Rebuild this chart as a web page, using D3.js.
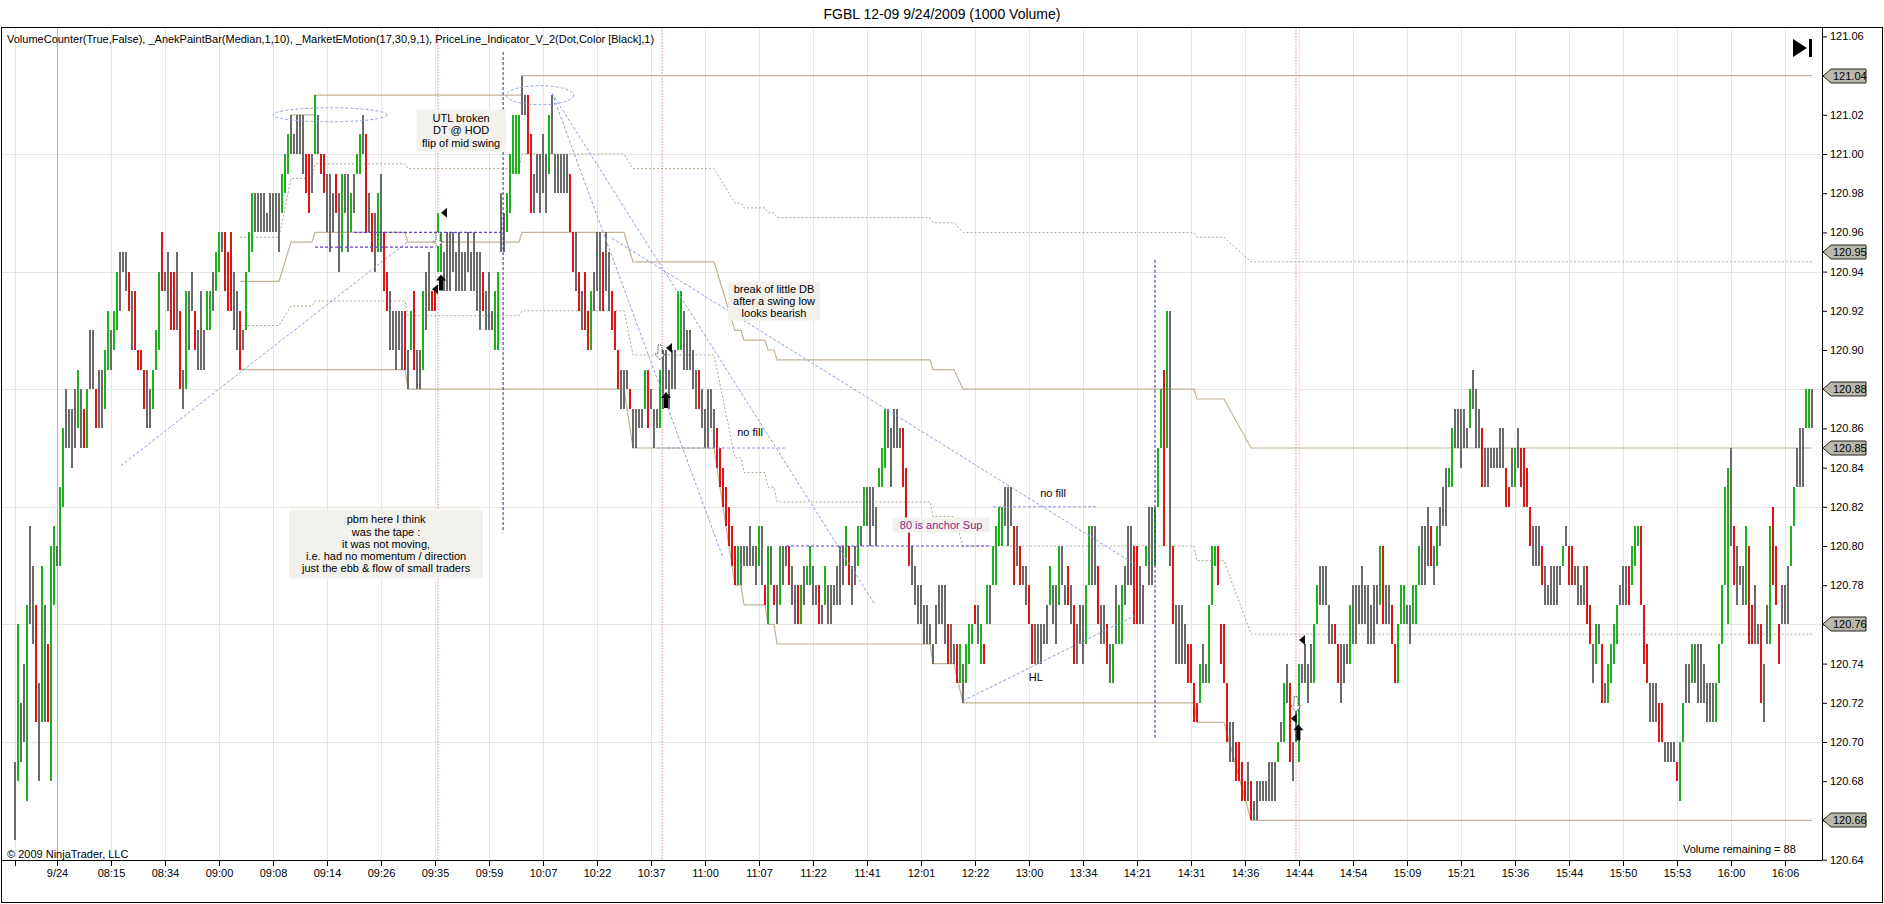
<!DOCTYPE html>
<html>
<head>
<meta charset="utf-8">
<script src="https://cdn.jsdelivr.net/npm/d3@7"></script>
<style>
  body { margin: 0; background: #fff; }
  svg text { font-family: "Liberation Sans", Arial, sans-serif; }
</style>
</head>
<body>
<svg id="chart" width="1884" height="904"></svg>
<script>
// FGBL 12-09, 1000 volume bars. Prices kept in ticks above 120.60 (1 tick = 0.01)
const BASE = 120.60;

const timeLabels = ["9/24","08:15","08:34","09:00","09:08","09:14","09:26","09:35","09:59","10:07","10:22",
  "10:37","11:00","11:07","11:22","11:41","12:01","12:22","13:00","13:34","14:21","14:31","14:36","14:44",
  "14:54","15:09","15:21","15:36","15:44","15:50","15:53","16:00","16:06"];
const timeLabelBars = timeLabels.map((d, k) => 14 + 18 * k);

const priceTicks = [120.64,120.66,120.68,120.70,120.72,120.74,120.76,120.78,120.80,120.82,120.84,120.86,
  120.88,120.90,120.92,120.94,120.96,120.98,121.00,121.02,121.04,121.06];
const gridPrices = [120.70,120.76,120.82,120.88,120.94,121.00];
const priceTags = [121.04,120.95,120.88,120.85,120.76,120.66];

const barLows = [
  5,8,9,10,7,16,15,11,8,11, 11,11,8,17,19,19,22,25,25,24, 25,26,25,25,25,28,28,26,26,26,
  27,29,29,30,31,32,34,33,32,30, 30,29,29,27,26,26,27,29,30,33, 33,32,31,31,31,28,27,28,30,32,
  30,29,29,29,31,31,32,33,34,35, 33,32,32,31,30,29,30,31,34,35, 36,36,36,36,36,36,36,36,35,37,
  38,39,40,40,40,40,39,38,37,38, 40,40,39,38,36,35,36,37,34,35, 37,35,36,37,39,39,40,36,36,35,
  34,35,35,33,32,30,30,29,30,29, 29,28,30,29,28,28,29,31,32,32, 32,34,34,33,33,33,34,33,33,33,
  33,34,33,33,32,31,32,31,31,31, 30,30,35,35,36,37,39,39,39,42, 42,40,37,37,38,37,38,37,39,40,
  38,38,38,38,38,36,34,33,32,31, 31,30,30,32,33,32,32,33,32,31, 30,28,27,27,28,27,25,25,26,26,
  27,26,27,25,26,26,27,28,27,28, 28,30,30,29,29,29,28,27,27,26, 25,25,26,25,24,23,22,21,20,19,
  18,18,18,19,19,19,19,18,19,18, 17,16,18,17,16,17,18,19,18,17, 16,16,16,17,18,18,17,17,16,16,
  17,16,16,17,17,17,18,19,18,17, 18,19,20,21,21,20,21,20,23,23, 24,25,23,25,25,25,23,21,19,18,
  17,16,16,15,15,15,14,15,16,16, 15,14,14,14,13,13,12,13,14,15, 16,15,14,14,16,16,18,18,20,20,
  21,20,21,18,19,18,18,17,16,14, 14,14,14,15,15,17,16,15,17,18, 17,17,16,14,14,15,14,15,18,18,
  18,16,15,15,14,13,13,15,15,15, 17,18,18,16,16,16,16,19,18,18, 19,22,25,20,25,19,16,14,14,14,
  14,13,13,11,11,12,13,13,13,17, 19,18,14,13,10,9,9,8,8,7, 7,7,6,6,6,7,7,7,7,7,
  7,9,10,10,12,9,8,10,9,13, 13,12,13,13,16,17,17,17,15,15, 15,13,12,13,14,14,15,15,16,16,
  16,15,15,15,16,17,16,16,16,15, 13,13,16,16,16,15,16,16,18,18, 18,19,19,18,19,20,21,21,23,23,
  25,25,24,25,25,26,27,25,25,23, 23,23,24,24,24,24,24,22,22,23, 23,24,23,22,22,20,19,19,19,18,
  17,17,17,17,17,18,19,20,18,18, 18,17,17,17,16,15,13,14,15,12, 12,12,13,14,15,17,17,17,17,18,
  19,20,17,14,13,11,11,11,10,10, 9,9,9,9,8,7,10,12,12,13, 13,12,12,12,11,11,11,11,13,15,
  18,16,20,18,17,18,17,17,15,15, 15,15,12,11,15,15,18,17,14,16, 16,16,19,21,23,23,23,26,26,26
];
const barHighs = [
  9,16,12,14,17,21,19,17,13,19, 17,15,20,21,20,23,26,28,27,27, 28,29,28,27,28,31,31,28,29,29,
  30,32,31,32,34,35,35,35,34,33, 33,30,30,29,29,28,29,31,34,36, 34,35,34,34,35,32,29,33,33,34,
  32,31,33,31,33,33,34,35,36,36, 36,35,36,34,33,32,31,34,36,38, 38,38,38,38,37,38,38,38,38,39,
  40,41,42,41,42,42,42,40,40,40, 43,42,40,40,39,39,38,39,38,39, 39,39,38,39,40,41,42,41,38,37,
  37,38,39,36,34,33,32,32,32,32, 32,30,32,33,30,30,33,34,35,33, 33,37,36,35,36,36,36,35,36,35,
  35,36,35,36,35,35,34,33,34,32, 33,34,38,37,38,40,42,42,42,44, 43,43,41,39,40,40,41,40,42,43,
  40,40,40,40,40,39,36,36,34,33, 34,32,33,34,36,36,35,36,35,33, 32,30,29,29,29,28,27,27,27,27,
  29,29,28,27,27,29,30,30,29,30, 30,33,33,32,31,31,30,29,29,28, 27,28,28,27,26,25,24,23,22,21,
  20,20,20,20,20,21,20,20,21,21, 18,20,20,18,18,20,20,20,20,19, 18,18,18,19,19,20,19,18,18,17,
  19,18,18,18,19,20,20,21,20,19, 20,21,21,23,23,23,23,22,24,25, 27,27,26,27,27,26,26,24,21,20,
  19,18,18,17,17,16,15,17,18,18, 18,16,16,15,15,15,14,15,16,16, 17,17,16,15,18,18,20,21,22,22,
  23,23,23,21,21,20,19,19,18,16, 16,16,16,16,17,19,18,18,20,20, 18,19,18,17,16,17,17,18,21,21,
  21,19,17,17,16,15,15,18,17,18, 19,21,21,20,20,19,18,20,22,22, 22,25,28,29,32,32,20,17,17,17,
  16,15,15,13,12,14,15,14,17,20, 20,20,16,16,13,11,11,10,10,9, 8,9,8,7,8,8,8,8,9,9,
  9,10,11,13,14,13,10,12,14,14, 15,14,15,16,18,19,19,19,17,16, 16,15,15,15,15,17,18,18,18,19,
  18,18,17,18,18,20,20,18,18,17, 15,16,18,18,17,17,18,18,20,21, 21,22,21,20,21,22,23,24,24,26,
  27,27,27,27,26,28,29,28,27,26, 25,25,25,25,25,26,26,24,23,25, 25,26,25,25,24,22,21,21,21,20,
  19,18,19,19,19,19,20,21,20,20, 19,19,18,19,19,17,15,16,16,15, 13,14,15,16,17,18,19,19,19,20,
  21,21,21,17,15,13,13,13,12,12, 10,10,10,10,9,10,12,14,14,15, 15,15,15,14,13,13,13,13,15,18,
  23,24,25,21,20,19,19,21,20,17, 18,16,16,14,17,21,22,20,16,18, 18,19,21,23,25,26,26,28,28,28
];
// paint bar colours: g = up, r = down, n = neutral
const barColors = [
  "ngnngnnrng","nrggnggnnn","ngnrgnnrnn","ggnggnnnrn","rrrrnngggr","nnrrnrngnn",
  "rnnnggnggn","rrrnnrnggg","nnnnnnnnng","ggnnnnnrrn","gnrrnnnrng","nngnggnrnr",
  "ngnrrnnnnn","rngrnngnnr","rggnnnnnnn","nnnnnnrnnn","ggnngggggn","nrrnnnnngn",
  "nnnnnrrnrn","rrgnnnrnnr","rrnnnrnnnn","grnnngnnnn","nggnnnnnrn","nnnnrrrrrr",
  "rgnnnnnngn","rgnrngnnrn","nrgnggnnrn","gnnnnnngrn","ngngnnnngg","gnnnnnrrrn",
  "nnnnnnnnnn","nrnnrgnggg","rngrgngggg","nnnrnrnnrr","nnnnngnngn","nrnrnnnggn",
  "nrnnrngngg","nnnrrnngnn","gggrgnrnnn","nrrrrgnngg","grrrrnnrrr","rnrnnnnnnn",
  "ngngnrnngn","nnnggnnnnn","rrnnngnnnn","nnnnngrnnr","rgggnngggn","nnrngnnngg",
  "nnnnngnnnr","nnnnnnnrrn","gnrrrrnnnr","nnnnnngnrr","nnnnrrngnr","nggggnnnrg",
  "ggrrrnnnrr","nnnnrggnng","nnnnnnnggg","ggnrnnngrr","nnrnngrrrn","nnggnnnggn"
].join("");

// _MarketEMotion bands: solid upper/lower, dotted inner levels (ticks), per bar range
const bandStart = [75, 92, 100, 131, 169, 206, 240, 243, 251, 254, 306, 316, 394, 412];
const bandEnd   = [88, 99, 130, 168, 203, 233, 242, 250, 253, 305, 313, 393, 403, 599];
const bandUpper = [33.5, 35.5, 36, 35.5, 36, 34.5, 31, 30.5, 30, 29.5, 29, 28, 27.5, 25];
const bandLower = [29, 29, 29, 28, 28, 25, 18, 17, 16, 15, 14, 12, 11, 6];
const dotTop    = [35.75, 38.75, 39.5, 39.25, 40, 39.25, 37.5, 37.25, 37, 36.75, 36.5, 36, 35.75, 34.5];
const dotMid    = [31.25, 32.25, 32.5, 31.75, 32, 29.75, 24.5, 23.75, 23, 22.25, 21.5, 20, 19.25, 15.5];
// high of day line
const hodStart = [92, 100, 169];
const hodEnd   = [99, 168, 599];
const hodLevel = [42, 43, 44];

// hand drawn objects: [bar1, tick1, bar2, tick2]
const blueLines = [[35.3, 24.1, 130.7, 35.5], [179, 43.1, 236, 19.4], [179, 43.1, 286.7, 17.0],
  [199, 35.7, 374, 19.0], [316, 12.1, 374, 16.5], [214, 25, 257, 25], [326, 22, 361, 22]];
const purpleLines = [[113, 36, 162, 36], [100, 35.25, 140, 35.25], [257, 20, 325, 20]];
const navyLines = [[162.7, 45.2, 162.7, 20.7], [380, 34.6, 380, 10.2]];
const pinkBars = [141, 215.7, 427];
const ellipses = [[105, 42, 19, 7], [175, 43, 11.2, 9.5]]; // bar, tick, half width (bars), half height (px)
const notes = [
  {bar: 148.7, tick: 41.2, w: 89, h: 42, lines: ["UTL broken", "DT @ HOD", "flip of mid swing"], box: true},
  {bar: 123.7, tick: 20.1, w: 194, h: 69, lines: ["pbm here I think", "was the tape :", "it was not moving,",
    "i.e. had no momentum / direction", "just the ebb & flow of small traders"], box: true},
  {bar: 253, tick: 32.5, w: 92, h: 39, lines: ["break of little DB", "after a swing low", "looks bearish"], box: true},
  {bar: 308.7, tick: 21.07, w: 97, h: 15, lines: ["80 is anchor Sup"], box: true, color: "#8a1a8a"},
  {bar: 245, tick: 25.8, lines: ["no fill"]},
  {bar: 346, tick: 22.7, lines: ["no fill"]},
  {bar: 340.3, tick: 13.3, lines: ["HL"]}
];
const upArrows = [[142, 33.45], [217, 27.45], [427.8, 10.5]];
const leftMarks = [[143, 37], [218, 30.1], [429, 15.2], [140, 33.1], [426.3, 11.2]];
const hollowArrows = [[141, 35.6], [215, 29.85], [427, 11.9]];

// ---------- drawing ----------
const svg = d3.select("#chart");
const W = 1884, H = 904;
const plot = {left: 1, top: 27, right: 1822, bottom: 860};

const x = d3.scaleLinear().domain([0, 599]).range([15, 1812]);
const y = d3.scaleLinear().domain([120.64, 121.06]).range([859.6, 36.4]);
const yt = t => y(BASE + t / 100);

const colorMap = {g: "#1fb01f", r: "#e01414", n: "#6a6a6a"};
const tan = "#c4b294";

svg.append("rect").attr("width", W).attr("height", H).attr("fill", "#fff");

svg.append("text").attr("x", W / 2).attr("y", 19).attr("text-anchor", "middle")
  .attr("font-size", 14).text("FGBL 12-09  9/24/2009 (1000 Volume)");

svg.append("defs").append("clipPath").attr("id", "clip").append("rect")
  .attr("x", plot.left).attr("y", plot.top)
  .attr("width", plot.right - plot.left).attr("height", plot.bottom - plot.top);

const g = svg.append("g").attr("clip-path", "url(#clip)");

// grid
g.selectAll("line.hgrid").data(gridPrices).join("line")
  .attr("x1", plot.left).attr("x2", plot.right)
  .attr("y1", d => Math.round(y(d)) + 0.5).attr("y2", d => Math.round(y(d)) + 0.5)
  .attr("stroke", "#e8e6e2");
g.selectAll("line.vgrid").data([0].concat(timeLabelBars)).join("line")
  .attr("x1", d => Math.round(x(d)) + 0.5).attr("x2", d => Math.round(x(d)) + 0.5)
  .attr("y1", plot.top).attr("y2", plot.bottom)
  .attr("stroke", d => d === 14 ? "#b4b4b4" : "#e8e6e2");

// pink session markers
g.selectAll("line.pink").data(pinkBars).join("line")
  .attr("x1", d => x(d)).attr("x2", d => x(d))
  .attr("y1", plot.top).attr("y2", plot.bottom)
  .attr("stroke", "#e2b4c4").attr("stroke-width", 1.5).attr("stroke-dasharray", "1.5,1.5");

// bands
function segPoints(starts, ends, levels) {
  const pts = [];
  starts.forEach((s, k) => { pts.push([s, levels[k]]); pts.push([ends[k], levels[k]]); });
  return pts;
}
const line = d3.line().x(d => x(d[0])).y(d => yt(d[1]));
[bandUpper, bandLower].forEach(lv => {
  g.append("path").attr("d", line(segPoints(bandStart, bandEnd, lv)))
    .attr("fill", "none").attr("stroke", tan).attr("stroke-width", 1.2);
});
[dotTop, dotMid].forEach(lv => {
  g.append("path").attr("d", line(segPoints(bandStart, bandEnd, lv)))
    .attr("fill", "none").attr("stroke", "#b4a68e").attr("stroke-width", 1).attr("stroke-dasharray", "2,2");
});
g.append("path").attr("d", line(segPoints(hodStart, hodEnd, hodLevel).reduce((a, p, k) => {
    if (k > 0 && k % 2 === 0) a.push([p[0], a[a.length - 1][1]]);
    a.push(p); return a;
  }, [])))
  .attr("fill", "none").attr("stroke", tan).attr("stroke-width", 1.2);

// bars
const bars = barLows.map((lo, i) => ({i, lo, hi: barHighs[i], c: barColors[i]}));
g.selectAll("rect.bar").data(bars).join("rect")
  .attr("x", d => Math.round(x(d.i)) - 1).attr("width", 2)
  .attr("y", d => yt(d.hi)).attr("height", d => Math.max(1, yt(d.lo) - yt(d.hi)))
  .attr("fill", d => colorMap[d.c]).attr("shape-rendering", "crispEdges");

// drawn lines
g.selectAll("line.blue").data(blueLines).join("line")
  .attr("x1", d => x(d[0])).attr("y1", d => yt(d[1])).attr("x2", d => x(d[2])).attr("y2", d => yt(d[3]))
  .attr("stroke", "#8c9ee0").attr("stroke-width", 1).attr("stroke-dasharray", "3,2");
g.selectAll("line.purple").data(purpleLines).join("line")
  .attr("x1", d => x(d[0])).attr("y1", d => yt(d[1])).attr("x2", d => x(d[2])).attr("y2", d => yt(d[3]))
  .attr("stroke", "#6a3cd0").attr("stroke-width", 1.2).attr("stroke-dasharray", "3,2");
g.selectAll("line.navy").data(navyLines).join("line")
  .attr("x1", d => x(d[0])).attr("y1", d => yt(d[1])).attr("x2", d => x(d[2])).attr("y2", d => yt(d[3]))
  .attr("stroke", "#282890").attr("stroke-width", 1).attr("stroke-dasharray", "3,2");
g.selectAll("ellipse.e").data(ellipses).join("ellipse")
  .attr("cx", d => x(d[0])).attr("cy", d => yt(d[1]))
  .attr("rx", d => x(d[2]) - x(0)).attr("ry", d => d[3])
  .attr("fill", "none").attr("stroke", "#8fa2dc").attr("stroke-dasharray", "3,2");

// markers
g.selectAll("path.up").data(upArrows).join("path")
  .attr("transform", d => `translate(${x(d[0])},${yt(d[1])})`)
  .attr("d", "M0,-8 L5,-2 L2,-2 L2,8 L-2,8 L-2,-2 L-5,-2 Z").attr("fill", "#000");
g.selectAll("path.left").data(leftMarks).join("path")
  .attr("transform", d => `translate(${x(d[0])},${yt(d[1])})`)
  .attr("d", "M-3,0 L3,-5 L3,5 Z").attr("fill", "#111");
g.selectAll("path.hollow").data(hollowArrows).join("path")
  .attr("transform", d => `translate(${x(d[0])},${yt(d[1])})`)
  .attr("d", "M-2,-8 L2,-8 L2,1 L5,1 L0,7 L-5,1 L-2,1 Z")
  .attr("fill", "#fff").attr("stroke", "#333").attr("stroke-dasharray", "1,1");

// notes
notes.forEach(n => {
  const cx = x(n.bar), cy = yt(n.tick);
  if (n.box) {
    g.append("rect").attr("x", cx - n.w / 2).attr("y", cy - n.h / 2)
      .attr("width", n.w).attr("height", n.h).attr("fill", "#f3f1ec");
  }
  const lh = 12.2, y0 = cy - (n.lines.length - 1) * lh / 2;
  n.lines.forEach((t, k) => {
    g.append("text").attr("x", cx).attr("y", y0 + k * lh).attr("dy", "0.35em")
      .attr("text-anchor", "middle").attr("font-size", 11).attr("fill", n.color || "#000").text(t);
  });
});

// indicator caption, copyright, volume remaining
svg.append("text").attr("x", 7).attr("y", 43).attr("font-size", 11)
  .text("VolumeCounter(True,False),  _AnekPaintBar(Median,1,10),  _MarketEMotion(17,30,9,1),  PriceLine_Indicator_V_2(Dot,Color [Black],1)");
svg.append("text").attr("x", 7).attr("y", 858).attr("font-size", 11).text("\u00a9 2009 NinjaTrader, LLC");
svg.append("text").attr("x", 1683).attr("y", 853).attr("font-size", 11).text("Volume remaining = 88");

// go-to-end icon
svg.append("path").attr("d", "M1793,39 L1807,48 L1793,57 Z").attr("fill", "#000");
svg.append("rect").attr("x", 1809).attr("y", 39).attr("width", 3).attr("height", 18).attr("fill", "#000");

// axes
const yAxis = d3.axisRight(y).tickValues(priceTicks).tickSize(5).tickFormat(d3.format(".2f"));
const ya = svg.append("g").attr("transform", `translate(${plot.right},0)`).call(yAxis);
ya.select(".domain").remove();
ya.selectAll("text").attr("font-size", 11).attr("fill", "#000").attr("font-family", "Liberation Sans, Arial, sans-serif");
ya.selectAll("line").attr("stroke", "#000");

const xAxis = d3.axisBottom(x).tickValues([0].concat(timeLabelBars)).tickSize(6)
  .tickFormat(d => d === 0 ? "" : timeLabels[(d - 14) / 18]);
const xa = svg.append("g").attr("transform", `translate(0,${plot.bottom})`).call(xAxis);
xa.select(".domain").remove();
xa.selectAll("text").attr("font-size", 11).attr("fill", "#000").attr("font-family", "Liberation Sans, Arial, sans-serif");
xa.selectAll("line").attr("stroke", "#000");

// frame lines
svg.append("line").attr("x1", plot.left).attr("x2", plot.right).attr("y1", plot.bottom + 0.5).attr("y2", plot.bottom + 0.5).attr("stroke", "#000");
svg.append("line").attr("x1", plot.right + 0.5).attr("x2", plot.right + 0.5).attr("y1", plot.top).attr("y2", plot.bottom).attr("stroke", "#000");
svg.append("rect").attr("x", 1.5).attr("y", plot.top + 0.5).attr("width", W - 3).attr("height", H - plot.top - 2)
  .attr("fill", "none").attr("stroke", "#000");

// price tags on the axis
const tags = svg.selectAll("g.tag").data(priceTags).join("g")
  .attr("transform", d => `translate(${plot.right},${Math.round(y(d))})`);
tags.append("path").attr("d", "M1,0 L9,-7 L44,-7 L44,7 L9,7 Z")
  .attr("fill", "#bbb8ab").attr("stroke", "#222");
tags.append("text").attr("x", 11).attr("dy", "0.35em").attr("font-size", 11).text(d => d.toFixed(2));
</script>
</body>
</html>
